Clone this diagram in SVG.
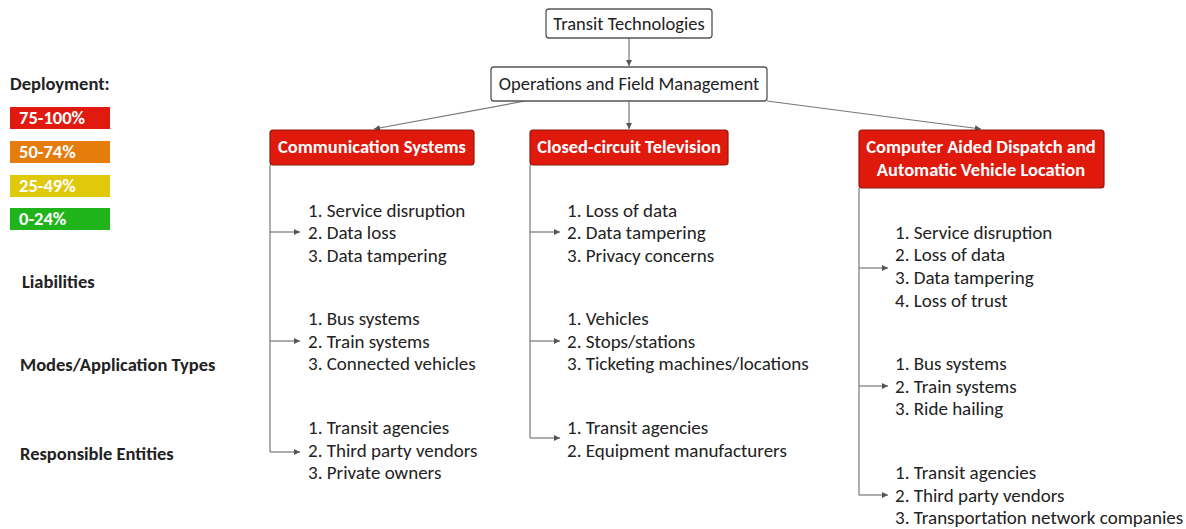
<svg xmlns="http://www.w3.org/2000/svg" width="1186" height="529" viewBox="0 0 1186 529">
<defs>
<marker id="ah" markerWidth="8" markerHeight="8" refX="6" refY="3" orient="auto" markerUnits="userSpaceOnUse"><path d="M0,0 L6,3 L0,6 z" fill="#555"/></marker>
<style>
text{font-family:Carlito,Lato,"Liberation Sans",sans-serif;fill:#222}
.t{font-size:18.5px}
.l{font-size:19px}
.b{font-size:18.5px;font-weight:bold}
.w{font-size:18.5px;font-weight:bold;fill:#fff}
.wh{font-size:18.5px;font-weight:bold;fill:#fff}
.box{fill:#fff;stroke:#555;stroke-width:1.3}
.red{fill:#e0190d;stroke:#8a1a10;stroke-width:1.2}
.c{stroke:#777;stroke-width:1.2;fill:none}
</style>
</defs>
<rect width="1186" height="529" fill="#fff"/>
<g id="legend">
<text x="10" y="90" class="b">Deployment:</text>
<rect x="10" y="107" width="100" height="22" fill="#e2190e"/><text x="19" y="124" class="w">75-100%</text>
<rect x="10" y="141" width="100" height="22" fill="#e57c0c"/><text x="19" y="158" class="w">50-74%</text>
<rect x="10" y="175" width="100" height="22" fill="#e0c80a"/><text x="19" y="192" class="w">25-49%</text>
<rect x="10" y="208" width="100" height="22" fill="#1fb51a"/><text x="19" y="225" class="w">0-24%</text>
</g>
<g id="row-labels">
<text x="22" y="288" class="b">Liabilities</text>
<text x="20" y="371" class="b">Modes/Application Types</text>
<text x="20" y="460" class="b">Responsible Entities</text>
</g>
<g id="connectors">
<line x1="629" y1="38" x2="629" y2="66" class="c" marker-end="url(#ah)"/>
<line x1="525" y1="101" x2="374" y2="129" class="c" marker-end="url(#ah)"/>
<line x1="629" y1="101" x2="629" y2="129" class="c" marker-end="url(#ah)"/>
<line x1="767" y1="101" x2="981" y2="129" class="c" marker-end="url(#ah)"/>
<path d="M270,165 V452" class="c"/>
<path d="M270,232 H300" class="c" marker-end="url(#ah)"/>
<path d="M270,341 H300" class="c" marker-end="url(#ah)"/>
<path d="M270,452 H300" class="c" marker-end="url(#ah)"/>
<path d="M530,165 V438" class="c"/>
<path d="M530,232 H560" class="c" marker-end="url(#ah)"/>
<path d="M530,341 H560" class="c" marker-end="url(#ah)"/>
<path d="M530,438 H560" class="c" marker-end="url(#ah)"/>
<path d="M859,188 V495" class="c"/>
<path d="M859,268 H888" class="c" marker-end="url(#ah)"/>
<path d="M859,386 H888" class="c" marker-end="url(#ah)"/>
<path d="M859,495 H888" class="c" marker-end="url(#ah)"/>
</g>
<g id="transit-technologies">
<rect x="546" y="9" width="166" height="29" rx="3" class="box"/>
<text x="629" y="30" class="t" text-anchor="middle">Transit Technologies</text>
</g>
<g id="operations">
<rect x="491" y="67" width="276" height="34" rx="3" class="box"/>
<text x="629" y="90" class="t" text-anchor="middle">Operations and Field Management</text>
</g>
<g id="communication-systems">
<rect x="270" y="130" width="204" height="35" rx="3" class="red"/>
<text x="372" y="153" class="wh" text-anchor="middle">Communication Systems</text>
</g>
<g id="cctv">
<rect x="530" y="130" width="198" height="35" rx="3" class="red"/>
<text x="629" y="153" class="wh" text-anchor="middle">Closed-circuit Television</text>
</g>
<g id="cad-avl">
<rect x="859" y="130" width="245" height="58" rx="3" class="red"/>
<text x="981" y="153" class="wh" text-anchor="middle">Computer Aided Dispatch and</text>
<text x="981" y="176" class="wh" text-anchor="middle">Automatic Vehicle Location</text>
</g>
<g id="comm-liabilities">
<text x="308" y="217" class="l">1. Service disruption</text>
<text x="308" y="239" class="l">2. Data loss</text>
<text x="308" y="262" class="l">3. Data tampering</text>
</g>
<g id="comm-modes">
<text x="308" y="325" class="l">1. Bus systems</text>
<text x="308" y="348" class="l">2. Train systems</text>
<text x="308" y="370" class="l">3. Connected vehicles</text>
</g>
<g id="comm-entities">
<text x="308" y="434" class="l">1. Transit agencies</text>
<text x="308" y="457" class="l">2. Third party vendors</text>
<text x="308" y="479" class="l">3. Private owners</text>
</g>
<g id="cctv-liabilities">
<text x="567" y="217" class="l">1. Loss of data</text>
<text x="567" y="239" class="l">2. Data tampering</text>
<text x="567" y="262" class="l">3. Privacy concerns</text>
</g>
<g id="cctv-modes">
<text x="567" y="325" class="l">1. Vehicles</text>
<text x="567" y="348" class="l">2. Stops/stations</text>
<text x="567" y="370" class="l">3. Ticketing machines/locations</text>
</g>
<g id="cctv-entities">
<text x="567" y="434" class="l">1. Transit agencies</text>
<text x="567" y="457" class="l">2. Equipment manufacturers</text>
</g>
<g id="cad-liabilities">
<text x="895" y="239" class="l">1. Service disruption</text>
<text x="895" y="261" class="l">2. Loss of data</text>
<text x="895" y="284" class="l">3. Data tampering</text>
<text x="895" y="307" class="l">4. Loss of trust</text>
</g>
<g id="cad-modes">
<text x="895" y="370" class="l">1. Bus systems</text>
<text x="895" y="393" class="l">2. Train systems</text>
<text x="895" y="415" class="l">3. Ride hailing</text>
</g>
<g id="cad-entities">
<text x="895" y="479" class="l">1. Transit agencies</text>
<text x="895" y="502" class="l">2. Third party vendors</text>
<text x="895" y="524" class="l">3. Transportation network companies</text>
</g>
</svg>
